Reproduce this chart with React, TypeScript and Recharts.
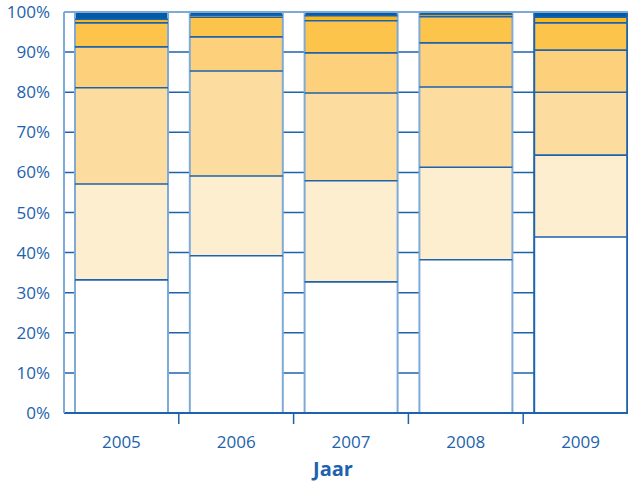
import { Bar, BarChart, CartesianGrid, ReferenceLine, XAxis, YAxis } from "recharts";

const years = ["2005", "2006", "2007", "2008", "2009"];
// segment sizes in % per year, bottom to top
const seg1 = [33.2, 39.2, 32.7, 38.2, 43.9];
const seg2 = [23.9, 19.9, 25.2, 23.1, 20.4];
const seg3 = [24.0, 26.2, 21.9, 20.0, 15.7];
const seg4 = [10.2, 8.5, 10.0, 11.0, 10.5];
const seg5 = [6.0, 4.9, 8.0, 6.5, 6.8];
const seg6 = [0.9, 0.5, 1.3, 0.6, 1.4];
const seg7 = [1.8, 0.8, 0.9, 0.6, 1.3];
const yTicks = [0, 10, 20, 30, 40, 50, 60, 70, 80, 90, 100];

const keys = ["s1", "s2", "s3", "s4", "s5", "s6", "s7"];
const fills = ["#ffffff", "#fdeecf", "#fddca0", "#fdd07b", "#fdc44c", "#f9b81b", "#005ca9"];
const series = [seg1, seg2, seg3, seg4, seg5, seg6, seg7];

const data = years.map((year, i) => {
  const row: Record<string, number | string> = { year };
  keys.forEach((k, j) => (row[k] = series[j][i]));
  return row;
});

const BLUE = "#1c62ad";
const LIGHT = "#7eaad7";
const CHART_W = 638;
const Y_W = 64;
const BAND = (CHART_W - Y_W) / years.length;

function makeShape(level: number) {
  return function SegShape(props: any) {
    const { x, y, width, height, fill, index } = props;
    const side = index === years.length - 1 ? BLUE : LIGHT;
    return (
      <g>
        <rect x={x} y={y} width={width} height={height} fill={fill} />
        <line x1={x} x2={x} y1={y} y2={y + height} stroke={side} strokeWidth={2} />
        <line x1={x + width} x2={x + width} y1={y} y2={y + height} stroke={side} strokeWidth={2} />
        {level > 0 && (
          <line x1={x} x2={x + width} y1={y + height} y2={y + height} stroke={BLUE} strokeWidth={1.6} />
        )}
        {level === keys.length - 1 && (
          <line x1={x} x2={x + width} y1={y} y2={y} stroke={LIGHT} strokeWidth={1.5} />
        )}
      </g>
    );
  };
}

function YearTick(props: any) {
  const { x, y, payload } = props;
  const b = x + BAND / 2;
  return (
    <g>
      <line x1={b} x2={b} y1={y - 8} y2={y + 3} stroke={BLUE} strokeWidth={1.5} />
      <text x={x} y={y + 27} textAnchor="middle" fill={BLUE} fontSize={17} fontFamily="Open Sans">
        {payload.value}
      </text>
    </g>
  );
}

export default function App() {
  return (
    <div style={{ position: "absolute", left: 0, top: 0, width: 628, height: 481, overflow: "hidden", background: "#fff" }}>
      <BarChart
        width={CHART_W}
        height={481}
        data={data}
        margin={{ top: 12, right: 0, left: 0, bottom: 0 }}
        barSize={93}
      >
        <CartesianGrid vertical={false} stroke={BLUE} strokeWidth={1.5} horizontalValues={yTicks} />
        <ReferenceLine y={100} stroke={LIGHT} strokeWidth={2} />
        <XAxis
          dataKey="year"
          height={68}
          axisLine={{ stroke: BLUE, strokeWidth: 2 }}
          tickLine={false}
          tick={<YearTick />}
          interval={0}
          label={{ value: "Jaar", position: "insideBottom", offset: 5, dx: -18, fill: BLUE, fontSize: 20, fontWeight: 700, fontFamily: "Open Sans" }}
        />
        <YAxis
          width={Y_W}
          domain={[0, 100]}
          ticks={yTicks}
          tickFormatter={(v) => `${v}%`}
          axisLine={{ stroke: LIGHT, strokeWidth: 2 }}
          tickLine={false}
          tick={{ fill: BLUE, fontSize: 17, fontFamily: "Open Sans" }}
          tickMargin={8}
        />
        {keys.map((k, j) => {
          const Shape = makeShape(j);
          return <Bar key={k} dataKey={k} stackId="a" fill={fills[j]} shape={<Shape />} isAnimationActive={false} />;
        })}
      </BarChart>
    </div>
  );
}
